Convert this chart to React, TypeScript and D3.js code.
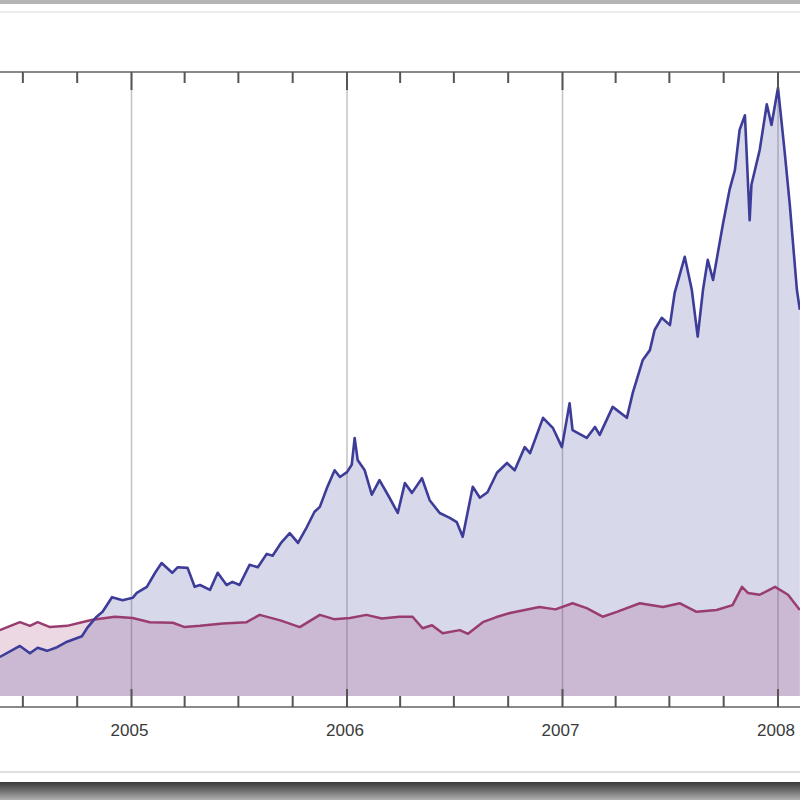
import React, { useEffect, useRef } from 'react';
import * as d3 from 'd3';

// values (index units, 0 = bottom of the filling)
const blueDates = [
  '2004-05-23', '2004-06-26', '2004-07-13', '2004-07-26', '2004-08-11', '2004-08-28', '2004-09-14',
  '2004-10-09', '2004-10-19', '2004-11-03', '2004-11-13', '2004-11-29', '2004-12-17', '2005-01-03',
  '2005-01-10', '2005-01-27', '2005-02-10', '2005-02-21', '2005-03-11', '2005-03-20', '2005-04-06',
  '2005-04-18', '2005-04-27', '2005-05-14', '2005-05-27', '2005-06-11', '2005-06-21', '2005-07-03',
  '2005-07-20', '2005-08-03', '2005-08-18', '2005-08-28', '2005-09-12', '2005-09-26', '2005-10-10',
  '2005-10-25', '2005-11-07', '2005-11-16', '2005-11-28', '2005-12-11', '2005-12-20', '2006-01-01',
  '2006-01-09', '2006-01-14', '2006-01-19', '2006-01-31', '2006-02-12', '2006-02-25', '2006-03-14',
  '2006-03-28', '2006-04-09', '2006-04-21', '2006-05-08', '2006-05-21', '2006-06-07', '2006-06-24',
  '2006-07-06', '2006-07-16', '2006-08-02', '2006-08-14', '2006-08-27', '2006-09-12', '2006-09-29',
  '2006-10-12', '2006-10-29', '2006-11-07', '2006-11-29', '2006-12-16', '2006-12-31', '2007-01-13',
  '2007-01-18', '2007-02-11', '2007-02-25', '2007-03-05', '2007-03-27', '2007-04-20', '2007-04-30',
  '2007-05-17', '2007-05-29', '2007-06-06', '2007-06-18', '2007-07-02', '2007-07-10', '2007-07-27',
  '2007-08-08', '2007-08-18', '2007-08-27', '2007-09-04', '2007-09-13', '2007-09-30', '2007-10-11',
  '2007-10-20', '2007-10-28', '2007-11-06', '2007-11-14', '2007-11-17', '2007-12-01', '2007-12-13',
  '2007-12-21', '2008-01-01', '2008-01-12', '2008-01-21', '2008-02-02', '2008-02-07',
];
const blueValues = [
  6.4, 8.2, 7.0, 7.9, 7.4, 8.0, 8.9,
  9.8, 11.3, 13.0, 13.8, 16.2, 15.7, 16.1,
  16.9, 17.9, 20.2, 21.8, 20.2, 21.1, 21.0,
  17.9, 18.2, 17.4, 20.2, 18.2, 18.7, 18.2,
  21.5, 21.1, 23.3, 23.0, 25.2, 26.7, 25.1,
  27.7, 30.2, 31.0, 34.1, 37.0, 35.9, 36.7,
  37.9, 42.3, 38.7, 37.0, 33.0, 35.4, 32.5,
  30.0, 34.9, 33.3, 35.7, 32.1, 30.0, 29.2,
  28.5, 26.1, 34.3, 32.5, 33.4, 36.6, 38.2,
  37.0, 40.8, 39.8, 45.6, 43.9, 40.8, 48.0,
  43.6, 42.3, 44.1, 42.8, 47.4, 45.6, 49.7,
  55.1, 56.7, 60.0, 62.0, 60.8, 66.1, 72.0,
  66.6, 58.9, 66.6, 71.5, 68.2, 77.5, 83.0,
  86.2, 92.8, 95.2, 78.0, 83.8, 89.5, 97.0,
  93.6, 99.7, 89.5, 80.5, 66.6, 63.3,
];

const redDates = [
  '2004-05-23', '2004-06-26', '2004-07-13', '2004-07-26', '2004-08-16', '2004-09-14', '2004-10-09',
  '2004-10-27', '2004-12-04', '2005-01-03', '2005-02-01', '2005-03-12', '2005-04-01', '2005-04-27',
  '2005-06-05', '2005-07-15', '2005-08-06', '2005-09-10', '2005-10-13', '2005-11-16', '2005-12-10',
  '2006-01-06', '2006-02-03', '2006-03-01', '2006-03-31', '2006-04-22', '2006-05-09', '2006-05-25',
  '2006-06-12', '2006-07-11', '2006-07-25', '2006-08-19', '2006-09-10', '2006-10-04', '2006-11-23',
  '2006-12-20', '2007-01-18', '2007-02-11', '2007-03-10', '2007-04-03', '2007-05-12', '2007-06-20',
  '2007-07-19', '2007-08-16', '2007-09-19', '2007-10-16', '2007-11-01', '2007-11-11', '2007-12-01',
  '2007-12-27', '2008-01-18', '2008-02-07',
];
const redValues = [
  10.8, 12.1, 11.5, 12.1, 11.3, 11.5, 12.1,
  12.5, 13.0, 12.8, 12.1, 12.0, 11.3, 11.5,
  11.9, 12.1, 13.3, 12.4, 11.3, 13.3, 12.6,
  12.8, 13.3, 12.7, 13.0, 13.0, 11.1, 11.6,
  10.3, 10.8, 10.2, 12.1, 12.9, 13.6, 14.6,
  14.2, 15.2, 14.4, 13.0, 13.8, 15.2, 14.6,
  15.2, 13.8, 14.1, 14.9, 17.9, 16.9, 16.6,
  17.9, 16.6, 14.1,
];

const yearLabels = ['2005', '2006', '2007', '2008'];

const blueColor = '#3d3d99';
const redColor = '#993d71';

interface Pt {
  date: Date;
  value: number;
}

const parse = d3.utcParse('%Y-%m-%d');

const App: React.FC = () => {
  const ref = useRef<SVGSVGElement>(null);

  useEffect(() => {
    const svg = d3.select(ref.current!);
    svg.selectAll('*').remove();

    const width = 800;
    const height = 800;
    const frameTop = 72;
    const frameBottom = 707;

    const x = d3
      .scaleUtc()
      .domain([parse('2005-01-01')!, parse('2008-01-01')!])
      .range([131.5, 778]);
    const y = d3.scaleLinear().domain([0, 100]).range([696, 86]);

    const blue: Pt[] = blueDates.map((d, i) => ({ date: parse(d)!, value: blueValues[i] }));
    const red: Pt[] = redDates.map((d, i) => ({ date: parse(d)!, value: redValues[i] }));

    // page background and the screenshot's borders
    svg.append('rect').attr('width', width).attr('height', height).attr('fill', '#fff');
    const defs = svg.append('defs');
    const g1 = defs
      .append('linearGradient')
      .attr('id', 'bottomBand')
      .attr('x1', 0)
      .attr('y1', 0)
      .attr('x2', 0)
      .attr('y2', 1);
    g1.append('stop').attr('offset', '0%').attr('stop-color', '#3a3a3a');
    g1.append('stop').attr('offset', '45%').attr('stop-color', '#6a6a6a');
    g1.append('stop').attr('offset', '100%').attr('stop-color', '#b0b0b0');

    svg.append('rect').attr('x', 0).attr('y', 0).attr('width', width).attr('height', 4).attr('fill', '#b4b4b4');
    svg.append('rect').attr('x', 0).attr('y', 11).attr('width', width).attr('height', 2).attr('fill', '#ececec');
    svg.append('rect').attr('x', 0).attr('y', 771).attr('width', width).attr('height', 2).attr('fill', '#e0e0e0');
    svg.append('rect').attr('x', 0).attr('y', 782).attr('width', width).attr('height', 18).attr('fill', 'url(#bottomBand)');

    // year grid lines
    const years = yearLabels.map((s) => parse(s + '-01-01')!);
    svg
      .append('g')
      .selectAll('line')
      .data(years)
      .join('line')
      .attr('x1', (d) => x(d))
      .attr('x2', (d) => x(d))
      .attr('y1', frameTop)
      .attr('y2', frameBottom)
      .attr('stroke', '#9a9a9a')
      .attr('stroke-opacity', 0.6)
      .attr('stroke-width', 1.5);

    // fillings to the axis
    const area = d3
      .area<Pt>()
      .x((d) => x(d.date))
      .y0(y(0))
      .y1((d) => y(d.value));
    svg.append('path').datum(blue).attr('d', area).attr('fill', blueColor).attr('fill-opacity', 0.2);
    svg.append('path').datum(red).attr('d', area).attr('fill', redColor).attr('fill-opacity', 0.2);

    const line = d3
      .line<Pt>()
      .x((d) => x(d.date))
      .y((d) => y(d.value));
    svg
      .append('path')
      .datum(red)
      .attr('d', line)
      .attr('fill', 'none')
      .attr('stroke', redColor)
      .attr('stroke-width', 2.5)
      .attr('stroke-linejoin', 'round');
    svg
      .append('path')
      .datum(blue)
      .attr('d', line)
      .attr('fill', 'none')
      .attr('stroke', blueColor)
      .attr('stroke-width', 2.6)
      .attr('stroke-linejoin', 'round');

    // frame
    svg
      .append('rect')
      .attr('x', -40)
      .attr('y', frameTop)
      .attr('width', width + 80)
      .attr('height', frameBottom - frameTop)
      .attr('fill', 'none')
      .attr('stroke', '#8a8a8a')
      .attr('stroke-width', 2);

    // quarterly ticks, longer at each year
    const ticks = d3.utcMonth.every(3)!.range(parse('2004-04-01')!, parse('2008-04-02')!);
    const tickLen = (d: Date) => (d.getUTCMonth() === 0 ? 18 : 11);
    const tg = svg.append('g').attr('stroke', '#555').attr('stroke-width', 2);
    tg.selectAll('line.b')
      .data(ticks)
      .join('line')
      .attr('class', 'b')
      .attr('x1', (d) => x(d))
      .attr('x2', (d) => x(d))
      .attr('y1', frameBottom)
      .attr('y2', (d) => frameBottom - tickLen(d));
    tg.selectAll('line.t')
      .data(ticks)
      .join('line')
      .attr('class', 't')
      .attr('x1', (d) => x(d))
      .attr('x2', (d) => x(d))
      .attr('y1', frameTop)
      .attr('y2', (d) => frameTop + tickLen(d));

    // year labels
    svg
      .append('g')
      .selectAll('text')
      .data(years)
      .join('text')
      .attr('x', (d) => x(d) - 2)
      .attr('y', 736)
      .attr('text-anchor', 'middle')
      .attr('font-family', 'Liberation Sans, Arial, sans-serif')
      .attr('font-size', 17)
      .attr('fill', '#3a3a3a')
      .text((d, i) => yearLabels[i]);
  }, []);

  return (
    <svg
      ref={ref}
      width={800}
      height={800}
      style={{ position: 'absolute', left: 0, top: 0, display: 'block' }}
    />
  );
};

export default App;
